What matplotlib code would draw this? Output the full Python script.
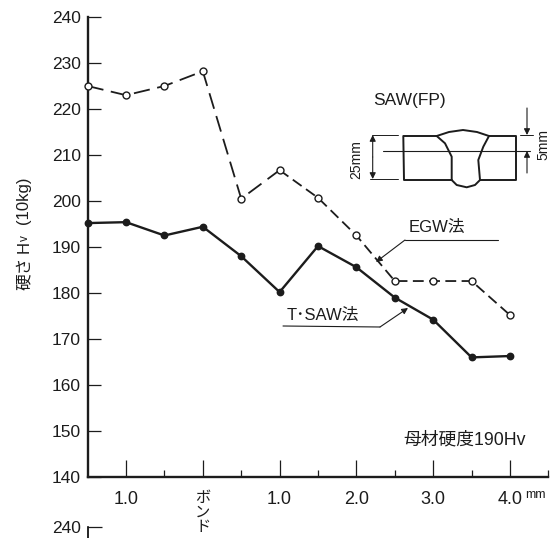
import matplotlib
matplotlib.use("Agg")
import matplotlib.pyplot as plt

# distance from bond (mm), left side runs from -1.5
dist = [-1.5, -1.0, -0.5, 0.0, 0.5, 1.0, 1.5, 2.0, 2.5, 3.0, 3.5, 4.0]
egw = [225.0, 223.0, 225.0, 228.2, 200.5, 206.7, 200.7, 192.5, 182.6, 182.6, 182.6, 175.2]
tsaw = [195.2, 195.4, 192.5, 194.4, 188.0, 180.2, 190.2, 185.6, 179.0, 174.2, 166.0, 166.3]

y_ticks = [140, 150, 160, 170, 180, 190, 200, 210, 220, 230, 240]
x_major = [-1.0, 0.0, 1.0, 2.0, 3.0, 4.0]
x_minor = [-0.5, 0.5, 1.5, 2.5, 3.5, 4.5]
x_labels = ["1.0", "ボ\nン\nド", "1.0", "2.0", "3.0", "4.0"]

plt.rcParams["font.family"] = ["Liberation Sans", "Noto Sans CJK JP"]
ink = "#1c1c1c"

fig = plt.figure(figsize=(5.51, 5.38), dpi=100)
ax = fig.add_axes([87.6 / 551, 61 / 538, 460.8 / 551, 460 / 538])

ax.plot(dist[:6], egw[:6], color=ink, lw=1.3, dashes=(9, 4.2), clip_on=False)
ax.plot(dist[5:], egw[5:], color=ink, lw=1.3, dashes=(6, 3), clip_on=False)
ax.plot(dist, egw, ls="none", marker="o", ms=5, mfc="white", mec=ink, mew=1, clip_on=False, zorder=4)
ax.plot(dist, tsaw, color=ink, lw=1.7, marker="o", ms=4.6, clip_on=False, zorder=4)

ax.set_xlim(-1.5, 4.5)
ax.set_ylim(140, 240)
ax.spines["top"].set_visible(False)
ax.spines["right"].set_visible(False)
ax.spines["left"].set_linewidth(1.7)
ax.spines["bottom"].set_linewidth(1.7)
ax.spines["left"].set_color(ink)
ax.spines["bottom"].set_color(ink)

ax.set_yticks(y_ticks)
ax.tick_params(axis="y", direction="in", length=9, width=0.9, color=ink, labelsize=12.5, labelcolor=ink, pad=5)
ax.set_xticks(x_major)
ax.set_xticklabels(x_labels, va="top", linespacing=1.05)
ax.set_xticks(x_minor, minor=True)
ax.tick_params(axis="x", which="major", direction="in", length=12, width=0.9, color=ink, labelsize=13, labelcolor=ink, pad=10)
ax.tick_params(axis="x", which="minor", direction="in", length=5, width=0.9, color=ink)
ax.get_xticklabels()[1].set_fontsize(11)

# start of the next panel, cut off by the page edge
ax2 = fig.add_axes([87.6 / 551, 0, 460.8 / 551, 11 / 538])
ax2.set_ylim(239, 240)
ax2.set_xticks([])
ax2.set_yticks([240])
ax2.tick_params(axis="y", direction="in", length=10, width=0.9, color=ink, labelsize=12.5, labelcolor=ink, pad=5)
for s in ["top", "right", "bottom"]:
    ax2.spines[s].set_visible(False)
ax2.spines["left"].set_linewidth(1.2)
ax2.patch.set_alpha(0)

# overlay in page pixels for the notes and the joint sketch
ov = fig.add_axes([0, 0, 1, 1])
ov.set_xlim(0, 551)
ov.set_ylim(538, 0)
ov.axis("off")

def note(x, y, s, size=12, rot=0):
    ov.text(x, y, s, fontsize=size, color=ink, ha="center", va="center", rotation=rot)

def line(xs, ys, lw=1.1):
    ov.plot(xs, ys, color=ink, lw=lw, solid_capstyle="round")

def arrow(x0, y0, x1, y1, style="-|>"):
    ov.annotate("", xy=(x1, y1), xytext=(x0, y0),
                arrowprops=dict(arrowstyle=style, color=ink, lw=0.8, shrinkA=0, shrinkB=0, mutation_scale=9))

note(535, 495.5, "mm", 9)
note(465, 440, "母材硬度190Hv", 12.8)

note(24, 273, "硬さ", 12, 90)
note(24, 247, "H", 12, 90)
note(25, 238.5, "v", 8.5, 90)
note(24, 200, "(10kg)", 12, 90)

note(409, 100, "SAW(FP)", 12.5)
note(356, 160, "25mm", 10, 90)
note(543, 145, "5mm", 10, 90)

# plate and weld outline
line([436.7, 403.3, 404, 451.7], [136, 136, 180, 180], 1.4)
line([489, 516, 516, 480], [136, 136, 180, 180], 1.4)
line([436.7, 449, 463, 477, 489], [136, 132, 130, 132, 136], 1.4)
line([436.7, 445, 451.7, 451.7], [136, 143.3, 156.7, 180], 1.4)
line([489, 483.3, 478.3, 480], [136, 146.7, 160, 180], 1.4)
line([451.7, 456.7, 466.7, 475, 480], [180, 185, 187.3, 185, 180], 1.4)
line([383, 530], [151, 151], 0.8)

line([372, 398], [135, 135], 0.7)
line([370, 398], [179, 179], 0.7)
arrow(372.7, 157, 372.7, 135)
arrow(372.7, 157, 372.7, 179)
line([520, 533], [135, 135], 0.7)
arrow(527, 108, 527, 135)
arrow(527, 173, 527, 151)

note(437, 227, "EGW法", 12)
line([405, 498], [240, 240], 0.8)
arrow(405, 240, 376, 262)

note(323, 315, "T･SAW法", 12)
line([283, 380], [326, 327], 0.8)
arrow(380, 327, 408, 308)

fig.savefig("out.png", dpi=100)
